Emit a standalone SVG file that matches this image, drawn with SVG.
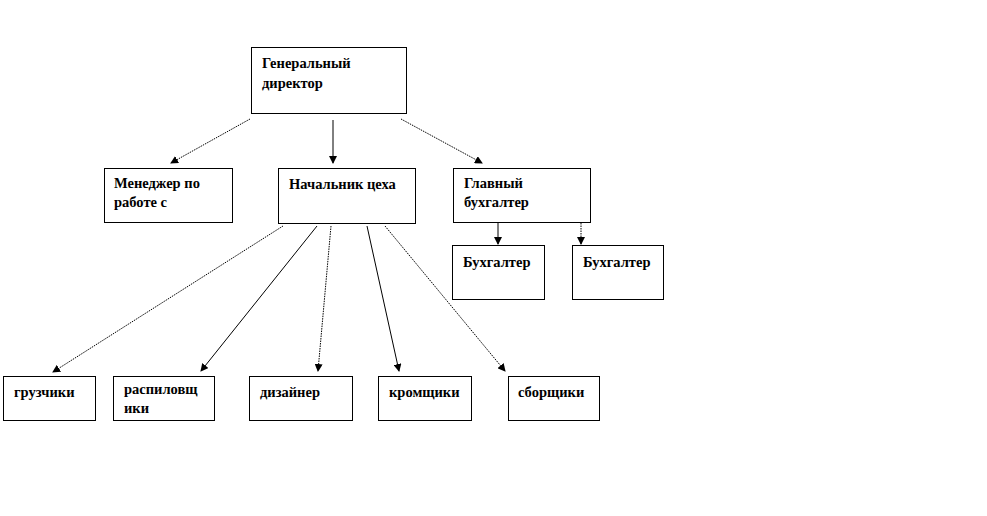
<svg xmlns="http://www.w3.org/2000/svg" width="987" height="516" viewBox="0 0 987 516">
<defs>
<marker id="arr" viewBox="0 0 8 8" refX="7" refY="4" markerWidth="8" markerHeight="8" markerUnits="userSpaceOnUse" orient="auto">
<path d="M0,0 L8,4 L0,8 Z" fill="#000"/>
</marker>
</defs>
<style>
.box{fill:#fff;stroke:#000;stroke-width:1}
.t{font-family:"Liberation Serif","DejaVu Serif",serif;font-weight:bold;font-size:14.5px;fill:#000}
.c{stroke:#000;stroke-width:1;fill:none;marker-end:url(#arr)}
.d{stroke-dasharray:1.5 1}
</style>
<rect width="987" height="516" fill="#fff"/>
<g id="connectors">
<line class="c d" x1="250" y1="119" x2="171" y2="163"/>
<line class="c" x1="333" y1="120" x2="333" y2="163"/>
<line class="c d" x1="401" y1="119" x2="482" y2="163"/>
<line class="c d" x1="283" y1="226" x2="53" y2="372"/>
<line class="c" x1="317" y1="226" x2="201" y2="371"/>
<line class="c d" x1="331" y1="226" x2="318" y2="371"/>
<line class="c" x1="367" y1="226" x2="399" y2="371"/>
<line class="c d" x1="385" y1="226" x2="505" y2="371"/>
<line class="c" x1="498" y1="223" x2="498" y2="244"/>
<line class="c d" x1="581" y1="223" x2="581" y2="244"/>
</g>
<g id="gendir"><rect class="box" x="251.5" y="47.5" width="155" height="66"/><text class="t" x="262" y="68">Генеральный</text><text class="t" x="262" y="88">директор</text></g>
<g id="manager"><rect class="box" x="104.5" y="168.5" width="128" height="54"/><text class="t" x="114" y="188">Менеджер по</text><text class="t" x="114" y="207">работе с</text></g>
<g id="chief"><rect class="box" x="278.5" y="168.5" width="137" height="55"/><text class="t" x="289" y="189">Начальник цеха</text></g>
<g id="chiefacc"><rect class="box" x="453.5" y="168.5" width="137" height="54"/><text class="t" x="464" y="188">Главный</text><text class="t" x="464" y="207">бухгалтер</text></g>
<g id="acc1"><rect class="box" x="452.5" y="245.5" width="92" height="54"/><text class="t" x="463" y="267">Бухгалтер</text></g>
<g id="acc2"><rect class="box" x="572.5" y="245.5" width="91" height="54"/><text class="t" x="583" y="267">Бухгалтер</text></g>
<g id="loaders"><rect class="box" x="3.5" y="376.5" width="92" height="44"/><text class="t" x="14" y="397">грузчики</text></g>
<g id="sawyers"><rect class="box" x="113.5" y="376.5" width="101" height="44"/><text class="t" x="124" y="394">распиловщ</text><text class="t" x="124" y="413">ики</text></g>
<g id="designer"><rect class="box" x="249.5" y="376.5" width="103" height="44"/><text class="t" x="260" y="397">дизайнер</text></g>
<g id="edgers"><rect class="box" x="378.5" y="376.5" width="93" height="44"/><text class="t" x="389" y="397">кромщики</text></g>
<g id="assemblers"><rect class="box" x="508.5" y="376.5" width="91" height="44"/><text class="t" x="518" y="397">сборщики</text></g>
</svg>
